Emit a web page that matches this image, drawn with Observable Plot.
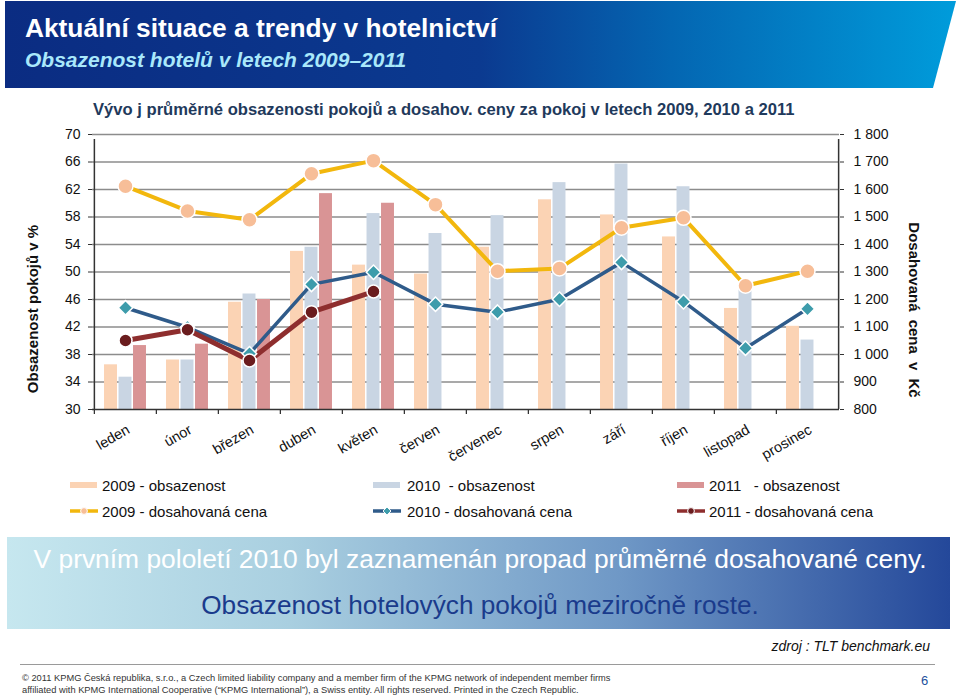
<!DOCTYPE html>
<html lang="cs">
<head>
<meta charset="utf-8">
<script src="https://cdn.jsdelivr.net/npm/d3@7"></script>
<script src="https://cdn.jsdelivr.net/npm/@observablehq/plot@0.6"></script>
<style>
html,body{margin:0;padding:0}
body{width:960px;height:696px;position:relative;overflow:hidden;background:#fff;font-family:"Liberation Sans",Arial,Helvetica,sans-serif}
.abs{position:absolute;white-space:pre}
#hdr{left:5px;top:1px;width:951px;height:87px;background:linear-gradient(90deg,#0b2c82 0%,#0b3a90 50%,#0466b2 70%,#009cdb 100%);clip-path:polygon(0 0,100% 0,calc(100% - 23px) 100%,0 100%)}
#t1{left:25px;top:13px;color:#fff;font-weight:bold;font-size:26.3px}
#t2{left:25px;top:48px;color:#a9e8fb;font-weight:bold;font-style:italic;font-size:21px}
#ctitle{left:93px;top:100px;font-size:16.6px;font-weight:bold;color:#1f3a5c}
#chart{left:0;top:120px}
.ytitle{font-size:15px;font-weight:bold;color:#111;transform:translate(-50%,-50%) rotate(-90deg)}
.ytitle.r{transform:translate(-50%,-50%) rotate(90deg);word-spacing:4px}
.leg{font-size:15px;color:#111;transform:translateY(-50%)}
#banner{left:7px;top:537px;width:943px;height:92px;background:linear-gradient(90deg,#c6e7ef 0%,#a9cfe0 30%,#6f98c6 65%,#24489a 100%)}
#b1{left:0;top:544px;width:960px;text-align:center;color:#fff;font-size:26.4px}
#b2{left:0;top:590px;width:960px;text-align:center;color:#1a3b8c;font-size:26.2px}
#src{right:30px;top:638px;font-style:italic;font-size:14px;color:#111}
#sep{left:20px;top:664px;width:915px;height:1px;background:#9a9a9a}
#f1{left:22px;top:673px;font-size:9.3px;color:#333}
#f2{left:22px;top:685px;font-size:9.3px;color:#333}
#pg{left:921px;top:673px;font-size:13px;color:#1b4f9c}
</style>
</head>
<body>
<div id="hdr" class="abs"></div>
<div id="t1" class="abs">Aktuální situace a trendy v hotelnictví</div>
<div id="t2" class="abs">Obsazenost hotelů v letech 2009–2011</div>
<div id="ctitle" class="abs">Vývo j průměrné obsazenosti pokojů a dosahov. ceny za pokoj v letech 2009, 2010 a 2011</div>
<div id="chart" class="abs"></div>
<div class="abs ytitle" style="left:32px;top:309px">Obsazenost pokojů v %</div>
<div class="abs ytitle r" style="left:914px;top:310px">Dosahovaná cena v Kč</div>
<div id="legend"></div>
<div id="banner" class="abs"></div>
<div id="b1" class="abs">V prvním pololetí 2010 byl zaznamenán propad průměrné dosahované ceny.</div>
<div id="b2" class="abs">Obsazenost hotelových pokojů meziročně roste.</div>
<div id="src" class="abs">zdroj : TLT benchmark.eu</div>
<div id="sep" class="abs"></div>
<div id="f1" class="abs">© 2011 KPMG Česká republika, s.r.o., a Czech limited liability company and a member firm of the KPMG network of independent member firms</div>
<div id="f2" class="abs">affiliated with KPMG International Cooperative (“KPMG International”), a Swiss entity. All rights reserved. Printed in the Czech Republic.</div>
<div id="pg" class="abs">6</div>
<script>
// ---- data ----
const months = ["leden","únor","březen","duben","květen","červen","červenec","srpen","září","říjen","listopad","prosinec"];
const years = ["2009","2010","2011"];
const occ2009 = [36.5, 37.2, 45.6, 53.0, 51.0, 49.7, 53.6, 60.5, 58.3, 55.1, 44.7, 42.1];
const occ2010 = [34.7, 37.2, 46.8, 53.6, 58.5, 55.6, 58.2, 63.0, 65.7, 62.4, 47.6, 40.1];
const occ2011 = [39.3, 39.5, 46.0, 61.4, 60.0];
const price2009 = [1612, 1522, 1490, 1657, 1705, 1545, 1303, 1313, 1461, 1497, 1250, 1303];
const price2010 = [1170, 1099, 1003, 1255, 1299, 1183, 1154, 1201, 1335, 1192, 1023, 1166];
const price2011 = [1051, 1090, 978, 1154, 1229];
const occTicks = [30, 34, 38, 42, 46, 50, 54, 58, 62, 66, 70];
const priceTicks = [800, 900, 1000, 1100, 1200, 1300, 1400, 1500, 1600, 1700, 1800];
const priceTickLabels = ["800","900","1 000","1 100","1 200","1 300","1 400","1 500","1 600","1 700","1 800"];
const occLegend = ["2009 - obsazenost", "2010  - obsazenost", "2011   - obsazenost"];
const priceLegend = ["2009 - dosahovaná cena", "2010 - dosahovaná cena", "2011 - dosahovaná cena"];

// ---- styles ----
const barColors = ["#fbd3b4", "#c9d5e3", "#d99495"];
const lineColors = ["#f2b70d", "#2f5b8a", "#8e2e2e"];
const markerColors = ["#f7be98", "#3d9cab", "#6a1c1e"];
const lineWidths = [4, 3.5, 5];
const symbols = ["circle", "diamond2", "circle"];
const markerR = [7.5, 6.5, 6.5];

// price axis mapped linearly onto the occupancy axis (800 ↔ 30, 1800 ↔ 70)
const priceToOcc = d3.scaleLinear().domain([priceTicks[0], priceTicks[priceTicks.length - 1]])
  .range([occTicks[0], occTicks[occTicks.length - 1]]);

const occ = [occ2009, occ2010, occ2011];
const prices = [price2009, price2010, price2011];
const bars = occ.flatMap((arr, k) => arr.map((v, i) => ({month: months[i], k, v})));
const pts = prices.flatMap((arr, k) => arr.map((p, i) => ({month: months[i], k, p})));

const W = 960, H = 350, ML = 92, MR = 121, MT = 14, MB = 61;
const bw = (W - ML - MR) / months.length;
const barW = 13.2, gap = 1.3;
const off = (bw - (3 * barW + 2 * gap)) / 2;
const axisColor = "#333";
const yMin = occTicks[0], yMax = occTicks[occTicks.length - 1];

const marks = [
  Plot.gridY(occTicks.slice(1), {stroke: "#8c8c8c", strokeOpacity: 1, strokeWidth: 1.5}),
  ...years.map((yr, k) => Plot.barY(bars.filter(d => d.k === k), {
    x: "month", y1: () => yMin, y2: "v", fill: barColors[k],
    insetLeft: off + k * (barW + gap), insetRight: bw - off - k * (barW + gap) - barW
  })),
  Plot.ruleY([yMin], {stroke: axisColor, strokeWidth: 1.5}),
  Plot.ruleX(months, {x: d => d, dx: -bw / 2, y1: () => yMin, y2: () => yMin, insetBottom: -5, stroke: axisColor, strokeWidth: 1.3}),
  Plot.ruleX([months[0]], {x: d => d, dx: -bw / 2, y1: () => yMin, y2: () => yMax, insetBottom: -5, stroke: axisColor, strokeWidth: 1.5}),
  Plot.ruleX([months[months.length - 1]], {x: d => d, dx: bw / 2, y1: () => yMin, y2: () => yMax, insetBottom: -5, stroke: axisColor, strokeWidth: 1.5}),
  Plot.axisY({ticks: occTicks, anchor: "left", tickSize: 4, tickPadding: 8, fontSize: 14, label: null, stroke: axisColor}),
  Plot.axisY({ticks: occTicks, anchor: "right", tickSize: 4, tickPadding: 10, fontSize: 14, label: null, stroke: axisColor,
    tickFormat: t => priceTickLabels[occTicks.indexOf(t)]}),
  Plot.axisX({anchor: "bottom", tickSize: 0, tickPadding: 19, tickRotate: -30, fontSize: 14.5, label: null, dx: 3}),
  ...years.map((yr, k) => Plot.line(pts.filter(d => d.k === k), {
    x: "month", y: d => priceToOcc(d.p), stroke: lineColors[k], strokeWidth: lineWidths[k]
  })),
  ...years.map((yr, k) => Plot.dot(pts.filter(d => d.k === k), {
    x: "month", y: d => priceToOcc(d.p), symbol: symbols[k], r: markerR[k],
    fill: markerColors[k], stroke: "#fff", strokeWidth: 1.5
  }))
];

const chart = Plot.plot({
  width: W, height: H,
  marginLeft: ML, marginRight: MR, marginTop: MT, marginBottom: MB,
  style: {fontFamily: "'Liberation Sans', Arial, sans-serif", fontSize: "14px", color: "#111", background: "transparent", overflow: "visible"},
  x: {type: "band", domain: months, padding: 0, label: null},
  y: {domain: [yMin, yMax], label: null},
  marks
});
document.getElementById("chart").appendChild(chart);

// ---- legend ----
const legend = document.getElementById("legend");
const colSwatch = [70, 373, 677], colText = [102, 407, 709], rowY = [485, 511];
years.forEach((yr, k) => {
  const sw = document.createElement("div");
  sw.className = "abs";
  sw.style.cssText = `left:${colSwatch[k]}px;top:${rowY[0] - 3}px;width:27px;height:6px;background:${barColors[k]}`;
  legend.appendChild(sw);
  const t = document.createElement("div");
  t.className = "abs leg";
  t.style.left = colText[k] + "px"; t.style.top = rowY[0] + "px";
  t.textContent = occLegend[k];
  legend.appendChild(t);
  const svgNS = "http://www.w3.org/2000/svg";
  const s = document.createElementNS(svgNS, "svg");
  s.setAttribute("width", 30); s.setAttribute("height", 14);
  s.setAttribute("class", "abs");
  s.style.left = (colSwatch[k] - 1) + "px"; s.style.top = (rowY[1] - 7) + "px";
  const ln = document.createElementNS(svgNS, "line");
  ln.setAttribute("x1", 1); ln.setAttribute("x2", 29); ln.setAttribute("y1", 7); ln.setAttribute("y2", 7);
  ln.setAttribute("stroke", lineColors[k]); ln.setAttribute("stroke-width", 3.5);
  s.appendChild(ln);
  const sym = d3.symbol(k === 1 ? d3.symbolDiamond2 : d3.symbolCircle, k === 1 ? 40 : 36)();
  const p = document.createElementNS(svgNS, "path");
  p.setAttribute("d", sym); p.setAttribute("transform", "translate(15,7)");
  p.setAttribute("fill", markerColors[k]); p.setAttribute("stroke", "#fff"); p.setAttribute("stroke-width", 1);
  s.appendChild(p);
  legend.appendChild(s);
  const t2 = document.createElement("div");
  t2.className = "abs leg";
  t2.style.left = colText[k] + "px"; t2.style.top = rowY[1] + "px";
  t2.textContent = priceLegend[k];
  legend.appendChild(t2);
});
</script>
</body>
</html>
